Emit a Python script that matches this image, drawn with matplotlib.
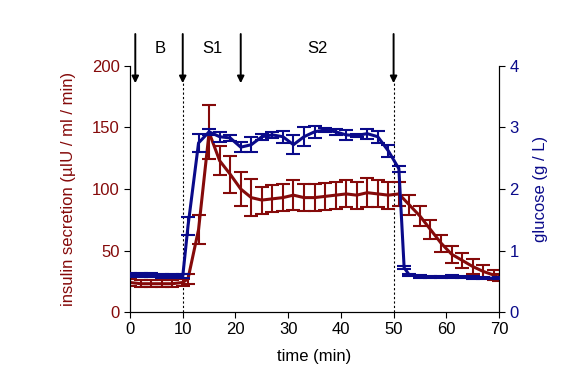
import matplotlib
matplotlib.use('Agg')
from matplotlib import pyplot as plt

plt.rcParams['font.family'] = ['Liberation Sans', 'DejaVu Sans']

# insulin secretion (red, left axis)
t_ins = [0, 2, 4, 6, 8, 10, 11, 13, 15, 17, 19, 21, 23, 25, 27, 29, 31, 33, 35, 37,
         39, 41, 43, 45, 47, 49, 51, 53, 55, 57, 59, 61, 63, 65, 67, 69, 70]
insulin = [24, 23, 23, 23, 23, 24, 27, 67, 146, 123, 112, 100, 93, 91, 92, 93, 95, 93, 93, 94,
           95, 96, 95, 97, 96, 95, 96, 87, 78, 67, 56, 47, 42, 37, 33, 30, 28]
ins_err = [3, 3, 3, 3, 3, 3, 4, 12, 22, 12, 15, 14, 15, 11, 11, 11, 12, 11, 11, 11,
           11, 11, 11, 12, 11, 11, 10, 8, 8, 8, 7, 7, 6, 6, 5, 4, 3]

# glucose (blue, right axis)
t_glu = [0, 2, 4, 6, 8, 10, 11, 13, 15, 17, 19, 21, 23, 25, 27, 29, 31, 33, 35, 37,
         39, 41, 43, 45, 47, 49, 51, 52, 53, 55, 57, 59, 61, 63, 65, 67, 70]
glucose = [0.6, 0.6, 0.6, 0.58, 0.58, 0.58, 1.4, 2.75, 2.93, 2.85, 2.83, 2.68, 2.72, 2.85,
           2.88, 2.85, 2.72, 2.85, 2.93, 2.96, 2.93, 2.88, 2.87, 2.9, 2.85, 2.62, 2.33,
           0.72, 0.6, 0.58, 0.57, 0.57, 0.58, 0.57, 0.56, 0.55, 0.55]
glu_err = [0.03, 0.03, 0.03, 0.03, 0.03, 0.03, 0.15, 0.15, 0.05, 0.08, 0.05, 0.08, 0.12,
           0.05, 0.05, 0.1, 0.15, 0.15, 0.1, 0.03, 0.05, 0.08, 0.03, 0.08, 0.1, 0.1, 0.05,
           0.02, 0.02, 0.02, 0.02, 0.02, 0.02, 0.02, 0.02, 0.02, 0.02]

# protocol markers
arrow_t = [1, 10, 21, 50]
phase_labels = ['B', 'S1', 'S2']
phase_t = [5.7, 15.6, 35.5]
dashed_t = [10, 50]

red = '#850a0a'
blue = '#0a0a8a'

fig = plt.figure(figsize=(5.81, 3.78), dpi=100)
ax = fig.add_axes([0.2238, 0.1746, 0.6351, 0.6508])
ax2 = ax.twinx()

ax.errorbar(t_ins, insulin, yerr=ins_err, color=red, lw=2.2, elinewidth=1.5,
            capsize=5, capthick=1.5, zorder=3)
ax2.errorbar(t_glu, glucose, yerr=glu_err, color=blue, lw=2.2, elinewidth=1.5,
             capsize=5, capthick=1.5, zorder=3)

ax.set_xlim(0, 70)
ax.set_ylim(0, 200)
ax2.set_ylim(0, 4)
ax.set_xticks(range(0, 71, 10))
ax.set_yticks(range(0, 201, 50))
ax2.set_yticks(range(0, 5))

for a in (ax, ax2):
    a.spines['top'].set_visible(False)
ax.tick_params(axis='x', direction='out', length=4, labelsize=12, colors='black')
ax.tick_params(axis='y', direction='out', length=4, labelsize=12, labelcolor=red)
ax2.tick_params(axis='y', direction='out', length=4, labelsize=12, labelcolor=blue)

ax.set_xlabel('time (min)', fontsize=12, labelpad=8)
ax.set_ylabel('insulin secretion (µIU / ml / min)', color=red, fontsize=12, labelpad=11)
ax2.set_ylabel('glucose (g / L)', color=blue, fontsize=12, labelpad=10)

for t in dashed_t:
    ax.plot([t, t], [0, 188], color='black', lw=0.8, ls=(0, (2, 2)), zorder=1)

for t in arrow_t:
    ax.annotate('', xy=(t, 186), xytext=(t, 226), annotation_clip=False,
                arrowprops=dict(arrowstyle='-|>', color='black', lw=1.4,
                                mutation_scale=10, shrinkA=0, shrinkB=0))

for t, lab in zip(phase_t, phase_labels):
    ax.text(t, 214, lab, ha='center', va='center', fontsize=12, clip_on=False)

plt.savefig('out.png', dpi=100)
